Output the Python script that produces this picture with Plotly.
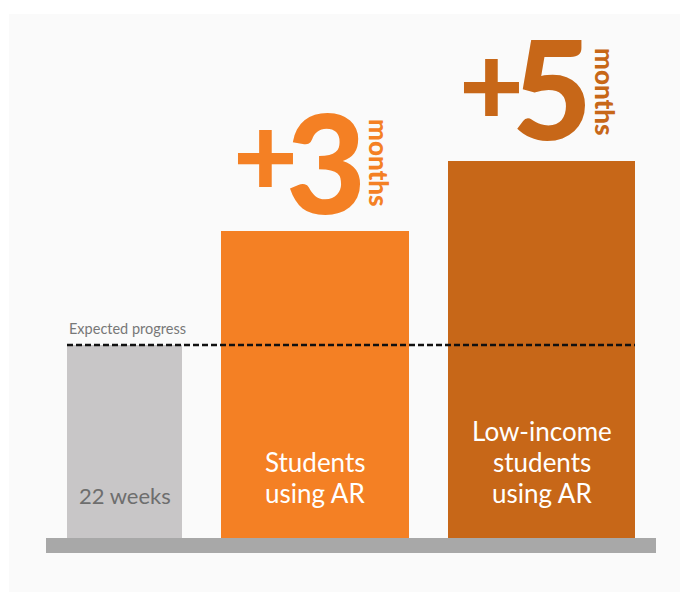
import plotly.graph_objects as go

# ---- data ----
categories = ["22 weeks", "Students<br>using AR", "Low-income<br>students<br>using AR"]
weeks = [22, 35, 43]            # progress in weeks (22 expected, +3 months, +5 months)
gain_months = ["3", "5"]
expected_weeks = 22
expected_label = "Expected progress"

# ---- layout constants (pixels) ----
W, H = 680, 592
BASE_PX = 538              # pixel row of y=0
PX_PER_UNIT = 8.77
centers = [124.5, 315, 541.5]
widths = [115, 188, 187]
colors = ["#c8c6c7", "#f48024", "#c76718"]
FONT = "Lato"

y_top = BASE_PX / PX_PER_UNIT
y_bot = -(H - BASE_PX) / PX_PER_UNIT

def py(p):  # pixel row -> paper
    return 1 - p / H

fig = go.Figure()
fig.add_trace(go.Bar(
    x=centers, y=weeks, width=widths,
    marker=dict(color=colors, line=dict(width=0)),
    hoverinfo="skip", showlegend=False,
))

shapes = [
    dict(type="rect", xref="paper", yref="paper", x0=9 / W, x1=1, y0=0, y1=py(14),
         fillcolor="#fafafa", line=dict(width=0), layer="below"),
    dict(type="rect", xref="x", yref="y", x0=46, x1=656, y0=0, y1=-15 / PX_PER_UNIT,
         fillcolor="#a8a8a8", line=dict(width=0), layer="above"),
    dict(type="line", xref="x", yref="y", x0=67, x1=635, y0=expected_weeks, y1=expected_weeks,
         line=dict(color="#111111", width=2.5, dash="6px,3px"), layer="above"),
]

ann = []
ann.append(dict(x=67, y=py(328), xref="x", yref="paper", text=expected_label,
                showarrow=False, xanchor="left", yanchor="middle",
                font=dict(family=FONT, size=14.5, color="#777777")))
# bar labels (one annotation per line, 31px line pitch)
label_specs = [
    (centers[0], 495, "#6e6e6e", 22),
    (centers[1], 493, "#ffffff", 26),
    (centers[2], 493, "#ffffff", 26),
]
for cat, (cx, last_y, col, sz) in zip(categories, label_specs):
    lines = cat.split("<br>")
    n = len(lines)
    for i, ln in enumerate(lines):
        ann.append(dict(x=cx, y=py(last_y - 31 * (n - 1 - i)), xref="x", yref="paper",
                        text=ln, showarrow=False, xanchor="center", yanchor="middle",
                        font=dict(family=FONT, size=sz, color=col)))

# gain callouts: "+" , digit, rotated "months"
gain_specs = [  # plus_x, plus_y, digit_x, digit_y, months_x, months_y, color
    (265, 152, 326, 161, 379, 163, colors[1]),
    (491, 81, 551.5, 86, 605, 92, colors[2]),
]
for g, (plx, ply, dx, dy, mx, my, col) in zip(gain_months, gain_specs):
    ann.append(dict(x=plx, y=py(ply), xref="x", yref="paper", text="+", showarrow=False,
                    xanchor="center", yanchor="middle",
                    font=dict(family=FONT, size=112, color=col, weight=900)))
    ann.append(dict(x=dx, y=py(dy), xref="x", yref="paper", text=g, showarrow=False,
                    xanchor="center", yanchor="middle",
                    font=dict(family=FONT, size=138, color=col, weight=900)))
    ann.append(dict(x=mx, y=py(my), xref="x", yref="paper", text="months", showarrow=False,
                    textangle=90, xanchor="center", yanchor="middle",
                    font=dict(family=FONT, size=26, color=col, weight=900)))

fig.update_layout(
    width=W, height=H, margin=dict(l=0, r=0, t=0, b=0),
    paper_bgcolor="#ffffff", plot_bgcolor="rgba(0,0,0,0)",
    xaxis=dict(range=[0, W], visible=False, fixedrange=True),
    yaxis=dict(range=[y_bot, y_top], visible=False, fixedrange=True),
    shapes=shapes, annotations=ann, bargap=0,
)
fig.write_html("out.html", config={"displayModeBar": False})
